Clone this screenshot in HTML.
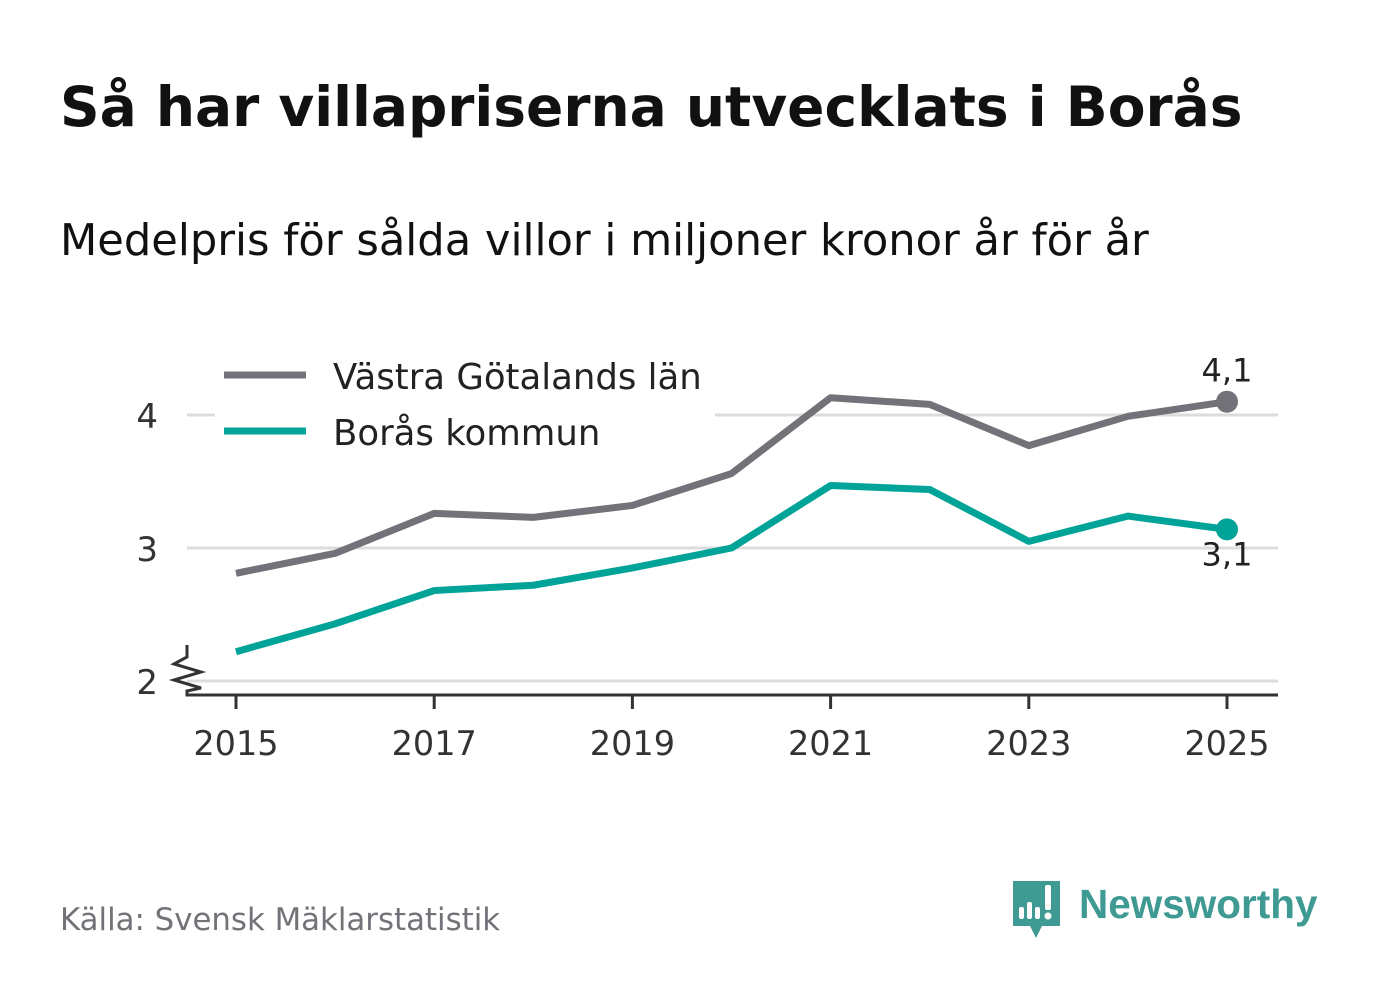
<!DOCTYPE html>
<html><head><meta charset="utf-8">
<style>
body{margin:0;background:#fff;width:1382px;height:999px;overflow:hidden;font-family:"Liberation Sans","DejaVu Sans",sans-serif}
svg text{font-family:"DejaVu Sans","Liberation Sans",sans-serif}
</style></head>
<body>
<svg width="1382" height="999">
<text x="60" y="126" font-size="55" font-weight="bold" fill="#111">Så har villapriserna utvecklats i Borås</text>
<text x="60" y="255" font-size="43.2" fill="#111">Medelpris för sålda villor i miljoner kronor år för år</text>
<g id="grid"></g>
<rect x="215" y="355" width="500" height="100" fill="#fff"/>
<g id="marks"></g>
<path d="M187 645 V657 L174 664 L201 672 L174 680 L201 688 L187 691 V695 H1278" fill="none" stroke="#333" stroke-width="3"/>
<g id="xt"></g>
<g>
<line x1="224" y1="375" x2="306" y2="375" stroke="#737278" stroke-width="7"/>
<text x="333" y="389" font-size="35.5" fill="#222">Västra Götalands län</text>
<line x1="224" y1="431" x2="306" y2="431" stroke="#00a397" stroke-width="7"/>
<text x="333" y="445" font-size="35.5" fill="#222">Borås kommun</text>
</g>
<text x="60" y="930" font-size="30.8" fill="#737278">Källa: Svensk Mäklarstatistik</text>
<g>
<path d="M1013 881 H1060 V926 H1042 L1036 938 L1030 926 H1013 Z" fill="#3e9a93"/>
<rect x="1019" y="907" width="5" height="12" rx="2" fill="#fff"/>
<rect x="1027" y="902" width="5" height="17" rx="2" fill="#fff"/>
<rect x="1035" y="907" width="5" height="12" rx="2" fill="#fff"/>
<rect x="1045" y="885" width="6" height="25" rx="2" fill="#fff"/>
<circle cx="1048" cy="916" r="3.5" fill="#fff"/>
<text x="1079" y="918" font-size="40.5" font-weight="bold" fill="#3e9a93" style="font-family:'Liberation Sans',sans-serif">Newsworthy</text>
</g>
</svg>
<script>
const years=[2015,2016,2017,2018,2019,2020,2021,2022,2023,2024,2025];
const vg=[2.81,2.96,3.26,3.23,3.32,3.56,4.13,4.08,3.77,3.99,4.10];
const boras=[2.22,2.43,2.68,2.72,2.85,3.00,3.47,3.44,3.05,3.24,3.14];
const yTicks=[2,3,4];
const xTicks=[2015,2017,2019,2021,2023,2025];
const NS="http://www.w3.org/2000/svg";
const X=y=>236+(y-2015)*99.1;
const Y=v=>681-(v-2)*133;
function mk(t,a,p){const e=document.createElementNS(NS,t);for(const k in a)e.setAttribute(k,a[k]);p.appendChild(e);return e;}
const grid=document.getElementById('grid'),marks=document.getElementById('marks'),xt=document.getElementById('xt');
yTicks.forEach(v=>{
 const l=mk('line',{x1:187,x2:1278,y1:Y(v),y2:Y(v),stroke:'#dcdcdc','stroke-width':3},grid);
 
 
 const t=mk('text',{x:158,y:Y(v)+13,'font-size':34,fill:'#333','text-anchor':'end'},grid);
 t.textContent=v;
 
 
});
xTicks.forEach(y=>{
 const l=mk('line',{x1:X(y),x2:X(y),y1:695,y2:709,stroke:'#333','stroke-width':3},xt);
 
 
 const t=mk('text',{x:X(y),y:755,'font-size':33.5,fill:'#333','text-anchor':'middle'},xt);
 t.textContent=y;
 
 
});
function series(vals,col,name,labelDy){
 const d=vals.map((v,i)=>(i?'L':'M')+X(years[i])+' '+Y(v)).join(' ');
 const p=mk('path',{d:d,fill:'none',stroke:col,'stroke-width':7,'stroke-linejoin':'round'},marks);
 
 
 const n=vals.length-1;
 const c=mk('circle',{cx:X(years[n]),cy:Y(vals[n]),r:11,fill:col},marks);
 
 
 const t=mk('text',{x:X(years[n]),y:Y(vals[n])+labelDy,'font-size':32,fill:'#222','text-anchor':'middle'},marks);
 t.textContent=vals[n].toFixed(1).replace('.',',');
 
 
}
series(vg,'#737278','vastra-gotaland',-20);
series(boras,'#00a397','boras',36);
</script>
</body></html>
